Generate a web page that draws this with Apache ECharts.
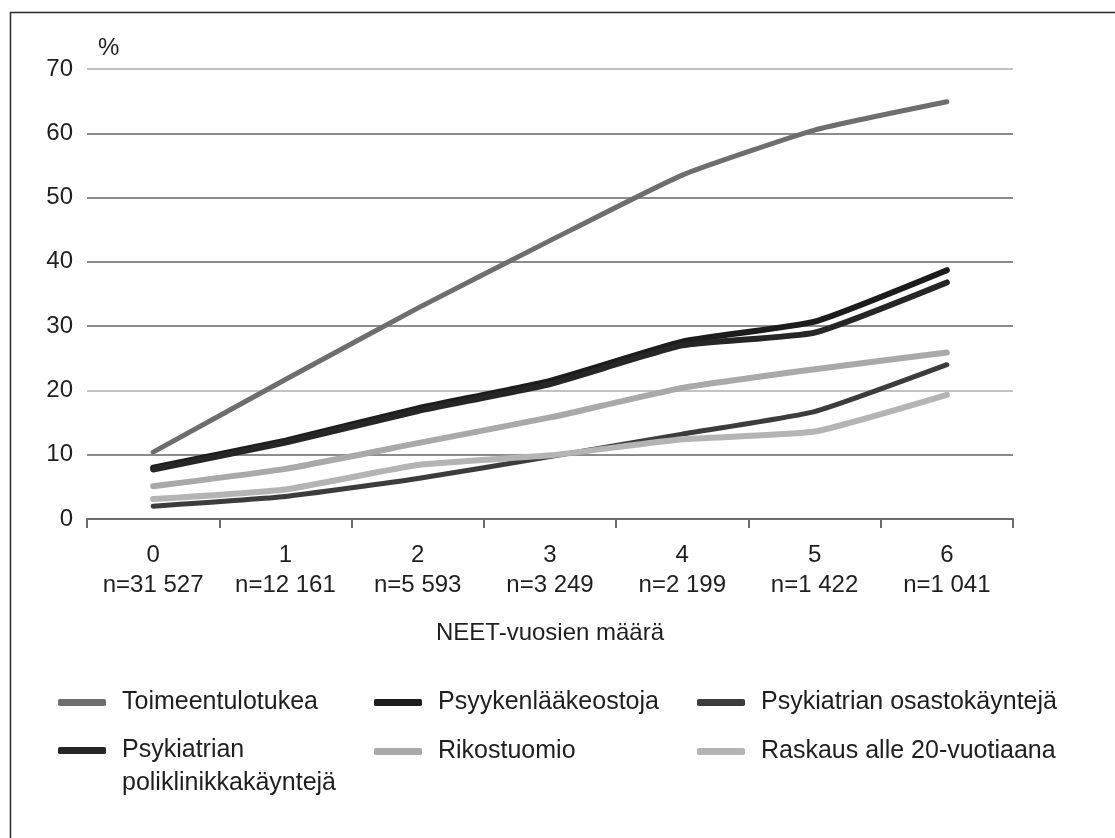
<!DOCTYPE html>
<html>
<head>
<meta charset="utf-8">
<script src="https://cdn.jsdelivr.net/npm/echarts@6/dist/echarts.min.js"></script>
<style>
  html, body { margin: 0; padding: 0; background: #ffffff; }
  #chart { width: 1115px; height: 838px; }
</style>
</head>
<body>
<div id="chart"></div>
<script>
// ---- data ----
const categories = ['0', '1', '2', '3', '4', '5', '6'];
const groupSizes = ['n=31 527', 'n=12 161', 'n=5 593', 'n=3 249', 'n=2 199', 'n=1 422', 'n=1 041'];
const yTicks = [0, 10, 20, 30, 40, 50, 60, 70];

const toimeentulotukea = [10.4, 21.7, 32.8, 43.3, 53.5, 60.5, 64.9];
const psyykenlaakeostoja = [8.0, 12.2, 17.2, 21.5, 27.6, 30.7, 38.7];
const poliklinikka = [7.7, 11.9, 16.8, 21.0, 27.0, 29.0, 36.8];
const osastokaynteja = [2.0, 3.5, 6.3, 9.7, 13.2, 16.7, 24.0];
const rikostuomio = [5.1, 7.8, 11.8, 15.8, 20.4, 23.3, 25.9];
const raskaus = [3.1, 4.6, 8.4, 9.9, 12.4, 13.6, 19.3];

const xAxisName = 'NEET-vuosien määrä';
const yAxisName = '%';

// ---- styling ----
const FONT = "'Liberation Sans', Arial, sans-serif";
const TXT = '#1e1e1e';

const seriesDefs = [
  { name: 'Toimeentulotukea', data: toimeentulotukea, color: '#6e6e6e', width: 5 },
  { name: 'Psyykenlääkeostoja', data: psyykenlaakeostoja, color: '#1c1c1c', width: 6 },
  { name: 'Psykiatrian osastokäyntejä', data: osastokaynteja, color: '#3c3c3c', width: 5 },
  { name: 'Psykiatrian poliklinikkakäyntejä', data: poliklinikka, color: '#262626', width: 6 },
  { name: 'Rikostuomio', data: rikostuomio, color: '#a9a9a9', width: 6 },
  { name: 'Raskaus alle 20-vuotiaana', data: raskaus, color: '#b4b4b4', width: 6 }
];

const legendPos = [
  { left: 58, top: 690 },
  { left: 374, top: 690 },
  { left: 697, top: 690 },
  { left: 58, top: 701, multi: true },
  { left: 374, top: 739 },
  { left: 697, top: 739 }
];

const legends = seriesDefs.map((s, i) => {
  const p = legendPos[i];
  const lg = {
    data: [s.name],
    left: p.left,
    top: p.top,
    padding: 0,
    itemWidth: 48,
    itemHeight: 7,
    icon: 'roundRect',
    textStyle: {
      fontFamily: FONT,
      fontSize: 25,
      color: TXT,
      padding: [0, 0, 0, 11]
    }
  };
  if (p.multi) {
    // empty first line keeps "Psykiatrian" level with the key, second line below
    lg.formatter = function () { return ' \nPsykiatrian\npoliklinikkakäyntejä'; };
    lg.textStyle.lineHeight = 33;
  }
  return lg;
});

const gridColors = yTicks.map(v => (v === 20 || v === 70) ? '#c2c2c2' : '#8c8c8c');

const option = {
  animation: false,
  backgroundColor: '#ffffff',
  textStyle: { fontFamily: FONT },
  graphic: [{
    type: 'rect',
    shape: { x: 10.5, y: 12.5, width: 1300, height: 1000 },
    style: { fill: 'none', stroke: '#2a2a2a', lineWidth: 1.5 },
    silent: true
  }],
  legend: legends,
  grid: { left: 87, right: 102, top: 69, bottom: 319, containLabel: false },
  xAxis: {
    type: 'category',
    data: categories,
    boundaryGap: true,
    name: xAxisName,
    nameLocation: 'middle',
    nameGap: 102,
    nameTextStyle: { fontFamily: FONT, fontSize: 24, color: TXT },
    axisLine: { show: true, lineStyle: { color: '#6a6a6a', width: 2 } },
    axisTick: { show: true, length: 9, interval: 0, lineStyle: { color: '#6a6a6a', width: 2 } },
    axisLabel: {
      interval: 0,
      margin: 21,
      fontFamily: FONT,
      fontSize: 24,
      lineHeight: 30,
      color: TXT,
      formatter: function (v, idx) { return v + '\n' + groupSizes[idx]; }
    },
    splitLine: { show: false }
  },
  yAxis: {
    type: 'value',
    min: 0,
    max: 70,
    interval: 10,
    name: yAxisName,
    nameLocation: 'end',
    nameGap: 9,
    nameTextStyle: { fontFamily: FONT, fontSize: 24, color: TXT, align: 'left', padding: [0, 0, 0, 11] },
    axisLine: { show: false },
    axisTick: { show: false },
    axisLabel: { margin: 14, fontFamily: FONT, fontSize: 24, color: TXT },
    splitLine: { show: true, lineStyle: { color: gridColors, width: 2 } }
  },
  series: seriesDefs.map(s => ({
    name: s.name,
    type: 'line',
    data: s.data,
    smooth: 0.15,
    symbol: 'none',
    lineStyle: { color: s.color, width: s.width, cap: 'round', join: 'round' },
    itemStyle: { color: s.color }
  }))
};

const chart = echarts.init(document.getElementById('chart'), null, { renderer: 'canvas' });
chart.setOption(option);
</script>
</body>
</html>
